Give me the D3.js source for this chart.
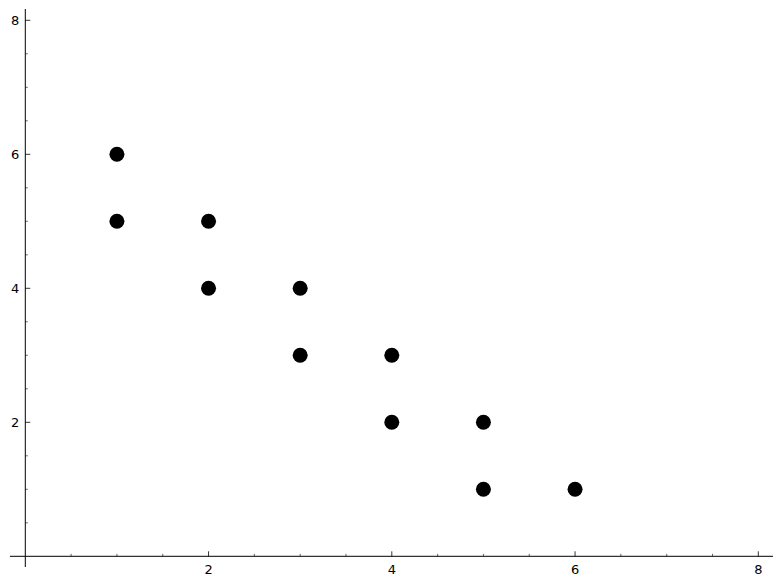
<!DOCTYPE html>
<html>
<head>
<meta charset="utf-8">
<script src="https://cdn.jsdelivr.net/npm/d3@7"></script>
<style>
  body { margin: 0; background: #fff; }
</style>
</head>
<body>
<svg width="782" height="582"></svg>
<script>
var xs = [1, 1, 2, 2, 3, 3, 4, 4, 5, 5, 6],
    ys = [6, 5, 5, 4, 4, 3, 3, 2, 2, 1, 1];
var majorTicks = [2, 4, 6, 8];

var svg = d3.select("svg")
    .attr("font-family", "'DejaVu Sans', sans-serif")
    .attr("font-size", 13);

var x = d3.scaleLinear().domain([0, 8]).range([25.3, 758.3]),
    y = d3.scaleLinear().domain([0, 8]).range([556.3, 20.3]);

var minor = d3.range(0.5, 8.01, 0.5).filter(function(d) { return d % 2 !== 0; });

// x axis line
svg.append("line")
    .attr("x1", 10).attr("x2", 773)
    .attr("y1", y(0)).attr("y2", y(0))
    .attr("stroke", "#000").attr("stroke-width", 1);

// y axis line
svg.append("line")
    .attr("x1", x(0)).attr("x2", x(0))
    .attr("y1", 9).attr("y2", 567)
    .attr("stroke", "#000").attr("stroke-width", 1);

// x ticks (pointing up)
svg.selectAll(".xmajor").data(majorTicks).enter().append("line")
    .attr("x1", function(d) { return x(d); }).attr("x2", function(d) { return x(d); })
    .attr("y1", y(0)).attr("y2", y(0) - 5)
    .attr("stroke", "#000").attr("stroke-width", 0.8);
svg.selectAll(".xminor").data(minor).enter().append("line")
    .attr("x1", function(d) { return x(d); }).attr("x2", function(d) { return x(d); })
    .attr("y1", y(0)).attr("y2", y(0) - 2.5)
    .attr("stroke", "#000").attr("stroke-width", 0.6);
svg.selectAll(".xlab").data(majorTicks).enter().append("text")
    .attr("x", function(d) { return x(d); })
    .attr("y", y(0) + 18)
    .attr("text-anchor", "middle")
    .text(function(d) { return d; });

// y ticks (pointing right)
svg.selectAll(".ymajor").data(majorTicks).enter().append("line")
    .attr("x1", x(0)).attr("x2", x(0) + 5)
    .attr("y1", function(d) { return y(d); }).attr("y2", function(d) { return y(d); })
    .attr("stroke", "#000").attr("stroke-width", 0.8);
svg.selectAll(".yminor").data(minor).enter().append("line")
    .attr("x1", x(0)).attr("x2", x(0) + 2.5)
    .attr("y1", function(d) { return y(d); }).attr("y2", function(d) { return y(d); })
    .attr("stroke", "#000").attr("stroke-width", 0.6);
svg.selectAll(".ylab").data(majorTicks).enter().append("text")
    .attr("x", x(0) - 6)
    .attr("y", function(d) { return y(d); })
    .attr("dy", "0.35em")
    .attr("text-anchor", "end")
    .text(function(d) { return d; });

// points
svg.selectAll("circle").data(xs).enter().append("circle")
    .attr("cx", function(d) { return x(d); })
    .attr("cy", function(d, i) { return y(ys[i]); })
    .attr("r", 7.5)
    .attr("fill", "#000");
</script>
</body>
</html>
